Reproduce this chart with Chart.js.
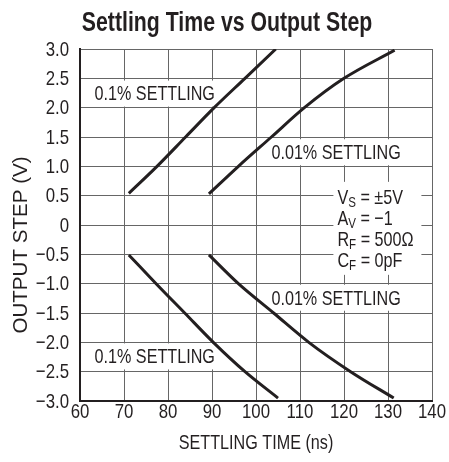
<!DOCTYPE html>
<html>
<head>
<meta charset="utf-8">
<script src="https://cdn.jsdelivr.net/npm/chart.js@4.4.1/dist/chart.umd.min.js"></script>
<style>
  html, body { margin: 0; padding: 0; background: #fff; }
  canvas { display: block; }
</style>
</head>
<body>
<canvas id="c" width="449" height="462"></canvas>
<script>
// ---- data ----
const xTicks = [60, 70, 80, 90, 100, 110, 120, 130, 140];
const yTicks = [3.0, 2.5, 2.0, 1.5, 1.0, 0.5, 0, -0.5, -1.0, -1.5, -2.0, -2.5, -3.0];

const time01Pos  = [71.1, 77.5, 84.0, 90.5, 97.5, 104.5];
const step01Pos  = [0.54, 1.0, 1.5, 2.0, 2.5, 3.0];
const time001Pos = [89.3, 96.0, 103.5, 111.0, 120.0, 131.5];
const step001Pos = [0.53, 1.0, 1.5, 2.0, 2.5, 2.98];
const time01Neg  = [71.1, 77.3, 83.8, 90.3, 97.5, 105.0];
const step01Neg  = [-0.51, -1.0, -1.5, -2.0, -2.5, -2.95];
const time001Neg = [89.3, 96.0, 104.0, 112.0, 121.5, 131.3];
const step001Neg = [-0.51, -1.0, -1.5, -2.0, -2.5, -2.95];

const FAMILY = '"Liberation Sans", Arial, sans-serif';
const INK = '#231f20';
const SX = 0.77;   // horizontal condensing to mimic a condensed face

function pts(xs, ys) { return xs.map((x, i) => ({ x: x, y: ys[i] })); }

function fmtY(v) {
  if (v === 0) return '0';
  const s = Math.abs(v).toFixed(1);
  return (v < 0 ? '\u2212' : '') + s;
}

// draw condensed text; returns drawn width
function txt(ctx, s, x, y, font, align, sx) {
  sx = sx || SX;
  ctx.save();
  ctx.font = font;
  ctx.textAlign = align || 'left';
  ctx.textBaseline = 'middle';
  ctx.translate(x, y);
  ctx.scale(sx, 1);
  ctx.fillText(s, 0, 0);
  const w = ctx.measureText(s).width * sx;
  ctx.restore();
  return w;
}
function width(ctx, s, font, sx) {
  ctx.save(); ctx.font = font;
  const w = ctx.measureText(s).width * (sx || SX);
  ctx.restore(); return w;
}

// annotation layout (data coordinates for anchor)
const curveLabels = [
  { text: '0.1% SETTLING',  x: 63.3,  y: 2.24 },
  { text: '0.01% SETTLING', x: 103.5, y: 1.24 },
  { text: '0.01% SETTLING', x: 103.5, y: -1.24 },
  { text: '0.1% SETTLING',  x: 63.3,  y: -2.24 }
];
const conditions = [
  ['V', 'S', ' = \u00b15V'],
  ['A', 'V', ' = \u22121'],
  ['R', 'F', ' = 500\u03a9'],
  ['C', 'F', ' = 0pF']
];
const condAnchor = { x: 118.5, y: 0.48 };

const F = '21px ' + FAMILY;
const FSUB = '15px ' + FAMILY;

const annotPlugin = {
  id: 'annot',
  beforeDatasetsDraw(chart) {
    const ctx = chart.ctx;
    const xs = chart.scales.x, ys = chart.scales.y;
    ctx.save();
    // curve labels with white boxes
    curveLabels.forEach(l => {
      const px = xs.getPixelForValue(l.x), py = ys.getPixelForValue(l.y);
      const w = width(ctx, l.text, F);
      ctx.fillStyle = '#fff';
      ctx.fillRect(px - 4, py - 13, w + 7, 26);
      ctx.fillStyle = INK;
      txt(ctx, l.text, px, py + 1, F);
    });
    // conditions block
    const cx = xs.getPixelForValue(condAnchor.x), cy = ys.getPixelForValue(condAnchor.y);
    const lh = 21;
    ctx.fillStyle = '#fff';
    ctx.fillRect(cx - 4, cy - 15, 88, lh * 3 + 30);
    ctx.fillStyle = INK;
    conditions.forEach((c, i) => {
      const y = cy + i * lh;
      let x = cx;
      x += txt(ctx, c[0], x, y + 1, F);
      x += txt(ctx, c[1], x, y + 6, FSUB);
      txt(ctx, c[2], x, y + 1, F);
    });
    ctx.restore();
  },
  afterDraw(chart) {
    const ctx = chart.ctx;
    const a = chart.chartArea;
    const xs = chart.scales.x, ys = chart.scales.y;
    ctx.save();
    ctx.fillStyle = INK;
    // tick labels, placed by the library's scales
    xs.ticks.forEach(t => txt(ctx, String(t.value), xs.getPixelForValue(t.value), 412, F, 'center', 0.8));
    ys.ticks.forEach(t => txt(ctx, fmtY(t.value), a.left - 11, ys.getPixelForValue(t.value) + 1, F, 'right', 0.8));
    // title
    txt(ctx, 'Settling Time vs Output Step', 227, 23, 'bold 28px ' + FAMILY, 'center', 0.76);
    // x title
    txt(ctx, 'SETTLING TIME (ns)', (a.left + a.right) / 2, 443, F, 'center');
    // y title
    ctx.translate(21, 245);
    ctx.rotate(-Math.PI / 2);
    txt(ctx, 'OUTPUT STEP (V)', 0, 0, F, 'center', 0.98);
    ctx.restore();
  }
};

const lineStyle = {
  borderColor: INK,
  borderWidth: 3,
  pointRadius: 0,
  fill: false,
  cubicInterpolationMode: 'monotone',
  borderCapStyle: 'butt'
};

new Chart(document.getElementById('c'), {
  type: 'scatter',
  data: {
    datasets: [
      Object.assign({ label: '0.1% settling, positive step',  data: pts(time01Pos, step01Pos),  showLine: true }, lineStyle),
      Object.assign({ label: '0.01% settling, positive step', data: pts(time001Pos, step001Pos), showLine: true }, lineStyle),
      Object.assign({ label: '0.1% settling, negative step',  data: pts(time01Neg, step01Neg),  showLine: true }, lineStyle),
      Object.assign({ label: '0.01% settling, negative step', data: pts(time001Neg, step001Neg), showLine: true }, lineStyle)
    ]
  },
  options: {
    responsive: false,
    animation: false,
    devicePixelRatio: 1,
    layout: { padding: { left: 0, top: 49, right: 17, bottom: 0 } },
    plugins: { legend: { display: false }, tooltip: { enabled: false }, title: { display: false } },
    scales: {
      x: {
        type: 'linear',
        min: xTicks[0], max: xTicks[xTicks.length - 1],
        afterBuildTicks(scale) { scale.ticks = xTicks.map(v => ({ value: v })); },
        afterFit(scale) { scale.height = 61; },
        ticks: { display: false },
        grid: { color: '#666', lineWidth: 1, drawTicks: false },
        border: { color: INK, width: 2 }
      },
      y: {
        type: 'linear',
        min: -3, max: 3,
        afterBuildTicks(scale) { scale.ticks = yTicks.map(v => ({ value: v })); },
        afterFit(scale) { scale.width = 80; },
        ticks: { display: false },
        grid: { color: '#666', lineWidth: 1, drawTicks: false },
        border: { color: INK, width: 2 }
      }
    }
  },
  plugins: [annotPlugin]
});
</script>
</body>
</html>
